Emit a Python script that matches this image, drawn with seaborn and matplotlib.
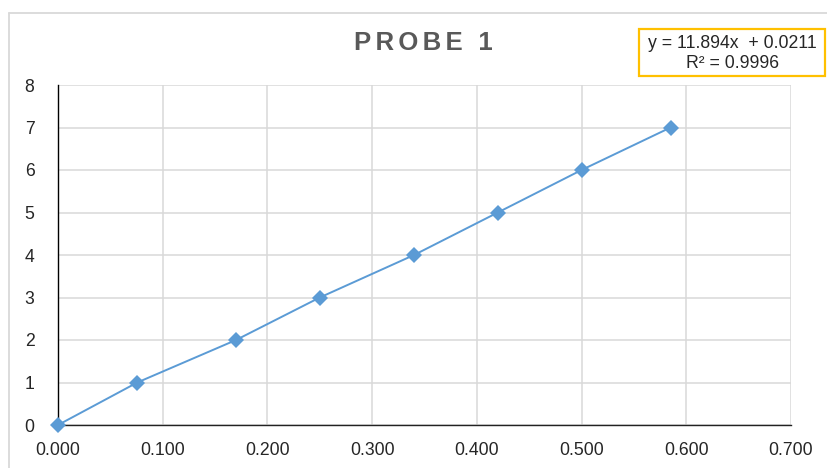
import matplotlib
matplotlib.use("Agg")
import matplotlib.pyplot as plt
import seaborn as sns
import pandas as pd
from matplotlib.lines import Line2D
from matplotlib.patches import Rectangle
from matplotlib.ticker import FormatStrFormatter

# data
x_vals = [0.000, 0.0757, 0.170, 0.250, 0.340, 0.420, 0.500, 0.585]
y_vals = [0, 1, 2, 3, 4, 5, 6, 7]
x_ticks = [0.0, 0.1, 0.2, 0.3, 0.4, 0.5, 0.6, 0.7]
y_ticks = [0, 1, 2, 3, 4, 5, 6, 7, 8]
title_text = "PROBE 1"
eq_line1 = "y = 11.894x  + 0.0211"
eq_line2 = "R² = 0.9996"

sns.set_theme(style="white")
plt.rcParams['font.family'] = ['Liberation Sans', 'DejaVu Sans']

df = pd.DataFrame({"x": x_vals, "y": y_vals})

fig = plt.figure(figsize=(8.27, 4.68), dpi=100)
ax = fig.add_axes([58/827, 43/468, (791-58)/827, (425-85)/468])

sns.lineplot(data=df, x="x", y="y", ax=ax, color="#5B9BD5", linewidth=1.4,
             marker="D", markersize=8.5, markeredgewidth=0, estimator=None,
             sort=False, zorder=5, clip_on=False)

ax.set_xlim(0, 0.7)
ax.set_ylim(0, 8)
ax.set_xticks(x_ticks)
ax.set_yticks(y_ticks)
ax.xaxis.set_major_formatter(FormatStrFormatter("%.3f"))
ax.set_xlabel("")
ax.set_ylabel("")
ax.grid(True, color="#d9d9d9", linewidth=1.1)
ax.set_axisbelow(True)
ax.tick_params(axis="both", length=0, labelsize=12.7, colors="#262626")
ax.tick_params(axis="x", pad=12)
ax.tick_params(axis="y", pad=17)
for s in ["top", "right"]:
    ax.spines[s].set_visible(False)
ax.spines["left"].set_color("#000000")
ax.spines["bottom"].set_color("#222222")
ax.spines["left"].set_linewidth(1.0)
ax.spines["bottom"].set_linewidth(1.0)

# outer chart border (left and top edges visible)
fig.add_artist(Line2D([9/827, 9/827], [0, 1 - 13/468], transform=fig.transFigure,
                      color="#d9d9d9", linewidth=1.3))
fig.add_artist(Line2D([9/827, 1], [1 - 13/468, 1 - 13/468], transform=fig.transFigure,
                      color="#d9d9d9", linewidth=1.3))

# title with letter spacing
spaced = "\u200a\u200a".join(list(title_text))
fig.text(423.5/827, 1 - 43/468, spaced, ha="center", va="center",
         fontsize=18.5, fontweight="bold", color="#595959")

# equation box
fig.add_artist(Rectangle((639/827, 1 - 76/468), (825-639)/827, (76-29)/468,
                         transform=fig.transFigure, facecolor="white",
                         edgecolor="#FFC000", linewidth=1.6))
fig.text(732.5/827, 1 - 44/468, eq_line1, ha="center", va="center",
         fontsize=12.7, color="#262626")
fig.text(733/827, 1 - 63/468, eq_line2, ha="center", va="center",
         fontsize=12.7, color="#262626")

fig.savefig("out.png", dpi=100)
